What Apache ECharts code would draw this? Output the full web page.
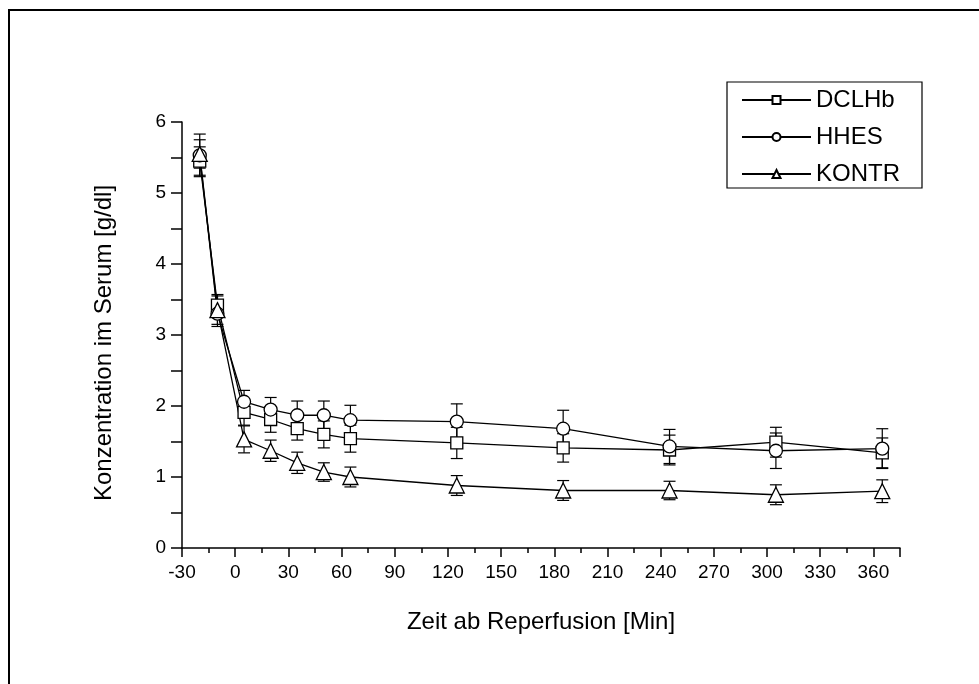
<!DOCTYPE html>
<html>
<head>
<meta charset="utf-8">
<script src="https://cdn.jsdelivr.net/npm/echarts@6/dist/echarts.min.js"></script>
<style>
html,body{margin:0;padding:0;background:#fff;}
#chart{width:979px;height:684px;}
</style>
</head>
<body>
<div id="chart"></div>
<script>
const times = [-20, -10, 5, 20, 35, 50, 65, 125, 185, 245, 305, 365];
const dclhb = [5.45, 3.42, 1.91, 1.81, 1.68, 1.60, 1.54, 1.48, 1.41, 1.38, 1.49, 1.34];
const dclhbErr = [0.20, 0.15, 0.18, 0.18, 0.16, 0.19, 0.19, 0.22, 0.20, 0.21, 0.21, 0.21];
const hhes = [5.53, 3.30, 2.06, 1.95, 1.87, 1.87, 1.80, 1.78, 1.68, 1.43, 1.37, 1.40];
const hhesErr = [0.30, 0.18, 0.16, 0.17, 0.20, 0.20, 0.21, 0.25, 0.26, 0.24, 0.25, 0.28];
const kontr = [5.55, 3.35, 1.53, 1.37, 1.20, 1.07, 1.00, 0.88, 0.81, 0.81, 0.75, 0.80];
const kontrErr = [0.20, 0.20, 0.19, 0.15, 0.15, 0.13, 0.14, 0.14, 0.14, 0.13, 0.14, 0.16];
const seriesNames = ['DCLHb', 'HHES', 'KONTR'];
const xTitle = 'Zeit ab Reperfusion [Min]';
const yTitle = 'Konzentration im Serum [g/dl]';

const chart = echarts.init(document.getElementById('chart'));
const FONT = 'Liberation Sans, Arial, sans-serif';

function pairs(vals){ return times.map((t,i)=>[t, vals[i]]); }
function errData(vals, errs){ return times.map((t,i)=>[t, vals[i]-errs[i], vals[i]+errs[i]]); }

function errSeries(vals, errs){
  return {
    type: 'custom',
    z: 1,
    silent: true,
    data: errData(vals, errs),
    encode: {x: 0, y: [1, 2]},
    renderItem: function(params, api){
      const lo = api.coord([api.value(0), api.value(1)]);
      const hi = api.coord([api.value(0), api.value(2)]);
      const w = 6;
      const st = {stroke: '#000', lineWidth: 1.2};
      return {type: 'group', children: [
        {type: 'line', shape: {x1: lo[0], y1: lo[1], x2: hi[0], y2: hi[1]}, style: st},
        {type: 'line', shape: {x1: lo[0]-w, y1: lo[1], x2: lo[0]+w, y2: lo[1]}, style: st},
        {type: 'line', shape: {x1: hi[0]-w, y1: hi[1], x2: hi[0]+w, y2: hi[1]}, style: st}
      ]};
    }
  };
}

function lineSeries(name, vals, symbol, size){
  return {
    name: name,
    type: 'line',
    z: 3,
    data: pairs(vals),
    symbol: symbol,
    symbolSize: size,
    showAllSymbol: true,
    lineStyle: {color: '#000', width: 1.3},
    itemStyle: {color: '#fff', borderColor: '#000', borderWidth: 1.3},
    emphasis: {disabled: true},
    animation: false
  };
}

const option = {
  animation: false,
  backgroundColor: '#fff',
  textStyle: {fontFamily: FONT},
  graphic: [{
    type: 'rect',
    shape: {x: 9, y: 10, width: 1100, height: 800},
    style: {fill: 'none', stroke: '#000', lineWidth: 2},
    silent: true
  }],
  grid: {left: 182, top: 122, width: 718, height: 426, containLabel: false},
  legend: {
    orient: 'vertical',
    left: 727,
    top: 82,
    padding: [6, 22, 2, 14],
    itemGap: 13,
    itemWidth: 69,
    itemHeight: 10,
    borderColor: '#000',
    borderWidth: 1.2,
    backgroundColor: '#fff',
    data: seriesNames,
    textStyle: {fontSize: 24, color: '#000', fontFamily: FONT, padding: [0, 0, 0, 0]}
  },
  xAxis: {
    type: 'value',
    min: -30,
    max: 375,
    interval: 30,
    name: xTitle,
    nameLocation: 'middle',
    nameGap: 62,
    nameTextStyle: {fontSize: 24, color: '#000', fontFamily: FONT},
    axisLine: {show: true, onZero: false, lineStyle: {color: '#000', width: 1.5}},
    axisTick: {show: true, inside: false, length: 9, lineStyle: {color: '#000', width: 1.5}},
    minorTick: {show: true, splitNumber: 2, length: 5, lineStyle: {color: '#000', width: 1.5}},
    axisLabel: {fontSize: 19, color: '#000', fontFamily: FONT, margin: 15,
      formatter: function(v){ return v > 360 ? '' : String(v); }},
    splitLine: {show: false}
  },
  yAxis: {
    type: 'value',
    min: 0,
    max: 6,
    interval: 1,
    name: yTitle,
    nameLocation: 'middle',
    nameGap: 66,
    nameTextStyle: {fontSize: 24, color: '#000', fontFamily: FONT, padding: [0, 16, 0, 0]},
    axisLine: {show: true, onZero: false, lineStyle: {color: '#000', width: 1.5}},
    axisTick: {show: true, inside: false, length: 11, lineStyle: {color: '#000', width: 1.5}},
    minorTick: {show: true, splitNumber: 2, length: 11, lineStyle: {color: '#000', width: 1.5}},
    axisLabel: {fontSize: 19, color: '#000', fontFamily: FONT, margin: 16},
    splitLine: {show: false}
  },
  series: [
    errSeries(dclhb, dclhbErr),
    errSeries(hhes, hhesErr),
    errSeries(kontr, kontrErr),
    lineSeries(seriesNames[0], dclhb, 'rect', 12),
    lineSeries(seriesNames[1], hhes, 'circle', 13),
    lineSeries(seriesNames[2], kontr, 'triangle', 15)
  ]
};
chart.setOption(option);
</script>
</body>
</html>
